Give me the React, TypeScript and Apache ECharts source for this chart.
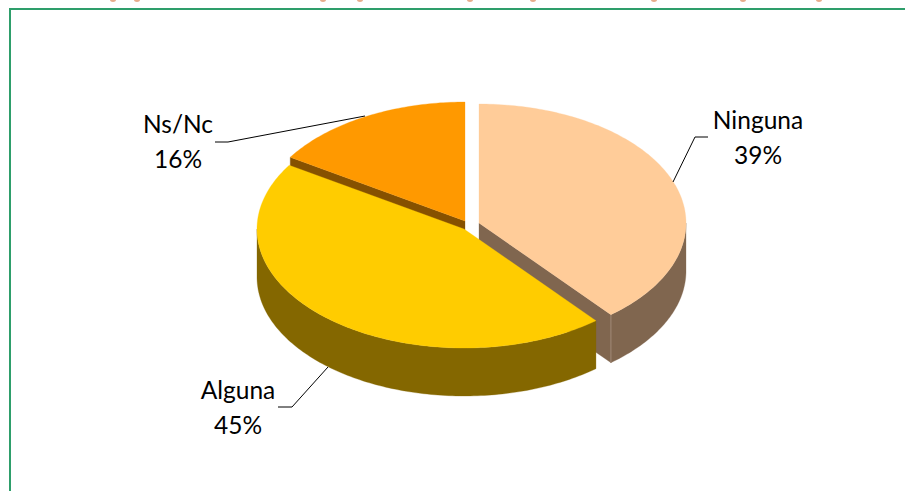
import React, { useEffect, useRef } from "react";
import * as echarts from "echarts";

const categories = ["Ninguna", "Alguna", "Ns/Nc"];
const shares = [39, 45, 16];
const topColors = ["#FFCC99", "#FFCC00", "#FF9900"];
const sideColors = ["#80664F", "#846700", "#865100"];

// Layout of the tilted disc
const RX = 207;
const RY = 119;
const DEPTH = 48;
const sliceCentres = [
  [479, 223],
  [464, 229],
  [465, 221],
];
const sliceOrder = [1, 3, 2];
const visibleSide: ([number, number] | null)[] = [[90, 140.4], [140.4, 270], null];

const pointAt = (c: number[], deg: number, dy = 0): number[] => {
  const a = (deg * Math.PI) / 180;
  return [c[0] + RX * Math.sin(a), c[1] - RY * Math.cos(a) + dy];
};

const arcPoints = (c: number[], from: number, to: number, dy = 0): number[][] => {
  const n = Math.max(2, Math.ceil(Math.abs(to - from)));
  const out: number[][] = [];
  for (let i = 0; i <= n; i++) out.push(pointAt(c, from + ((to - from) * i) / n, dy));
  return out;
};

const total = shares.reduce((a, b) => a + b, 0);

const renderSlice = (params: any, api: any) => {
  const i = params.dataIndex;
  const before = shares.slice(0, i).reduce((a, b) => a + b, 0);
  const start = (before / total) * 360;
  const end = ((before + api.value(0)) / total) * 360;
  const c = sliceCentres[i];
  const z = sliceOrder[i] * 10;
  const top = topColors[i];
  const side = sideColors[i];
  const children: any[] = [];

  const poly = (points: number[][], fill: string, zz: number) => ({
    type: "polygon",
    z2: zz,
    silent: true,
    shape: { points },
    style: { fill, stroke: fill, lineWidth: 0.3 },
  });

  // Cut face that can be seen from the viewer's side
  if (i === 0) {
    const p = pointAt(c, end);
    children.push(poly([c, p, [p[0], p[1] + DEPTH], [c[0], c[1] + DEPTH]], side, z));
  }
  if (i === 2) {
    const p = pointAt(c, start);
    children.push(poly([c, p, [p[0], p[1] + DEPTH], [c[0], c[1] + DEPTH]], side, z));
  }
  // Outer wall
  const vis = visibleSide[i];
  if (vis) {
    const from = i === 0 ? vis[0] : start;
    const to = i === 0 ? end : vis[1];
    const upper = arcPoints(c, from, to);
    const lower = arcPoints(c, from, to, DEPTH).reverse();
    children.push(poly([...upper, ...lower], side, z + 1));
  }
  if (i === 0) {
    const p = pointAt(c, end);
    children.push({
      type: "line",
      z2: z + 2,
      silent: true,
      shape: { x1: p[0], y1: p[1], x2: p[0], y2: p[1] + DEPTH },
      style: { stroke: "#A08A78", lineWidth: 1 },
    });
  }
  // Top face
  children.push(poly([c, ...arcPoints(c, start, end)], top, z + 3));
  return { type: "group", children };
};

const labelLayout = [
  { x: 758, y: 119, line: [[673, 182], [695, 137], [708, 137]] },
  { x: 238, y: 389, line: [[328, 367], [292, 407], [278, 407]] },
  { x: 178, y: 123, line: [[365, 116], [228, 142], [215, 142]] },
];
const clippedMarks = [113, 137, 323, 360, 470, 533, 654, 743, 819];

export default function App() {
  const ref = useRef<HTMLDivElement>(null);
  useEffect(() => {
    document.body.style.margin = "0";
    const chart = echarts.init(ref.current!, null, { renderer: "svg" });
    const labels: any[] = [];
    categories.forEach((name, i) => {
      const l = labelLayout[i];
      labels.push({
        type: "polyline",
        z: 5,
        shape: { points: l.line },
        style: { stroke: "#000000", lineWidth: 1, fill: "none" },
      });
      [name, `${shares[i]}%`].forEach((t, k) => {
        labels.push({
          type: "text",
          z: 6,
          x: l.x,
          y: l.y + k * 35,
          style: {
            text: t,
            fill: "#000000",
            font: '24.5px Lato, "Open Sans", sans-serif',
            align: "center",
            verticalAlign: "middle",
          },
        });
      });
    });
    chart.setOption({
      animation: false,
      backgroundColor: "#FFFFFF",
      graphic: [
        {
          type: "rect",
          z: 1,
          shape: { x: 9, y: 8, width: 2, height: 483 },
          style: { fill: "#2E9E6B" },
        },
        {
          type: "rect",
          z: 1,
          shape: { x: 9, y: 8, width: 896, height: 2 },
          style: { fill: "#2E9E6B" },
        },
        ...clippedMarks.map((x) => ({
          type: "ellipse",
          z: 1,
          shape: { cx: x, cy: 0, rx: 3, ry: 2 },
          style: { fill: "#E8AC8C" },
        })),
        ...labels,
      ],
      series: [
        {
          type: "custom",
          coordinateSystem: "none",
          renderItem: renderSlice,
          data: shares.map((v, i) => ({ name: categories[i], value: [v] })),
          silent: true,
        },
      ],
    });
    return () => chart.dispose();
  }, []);
  return <div ref={ref} style={{ width: 905, height: 491 }} />;
}
